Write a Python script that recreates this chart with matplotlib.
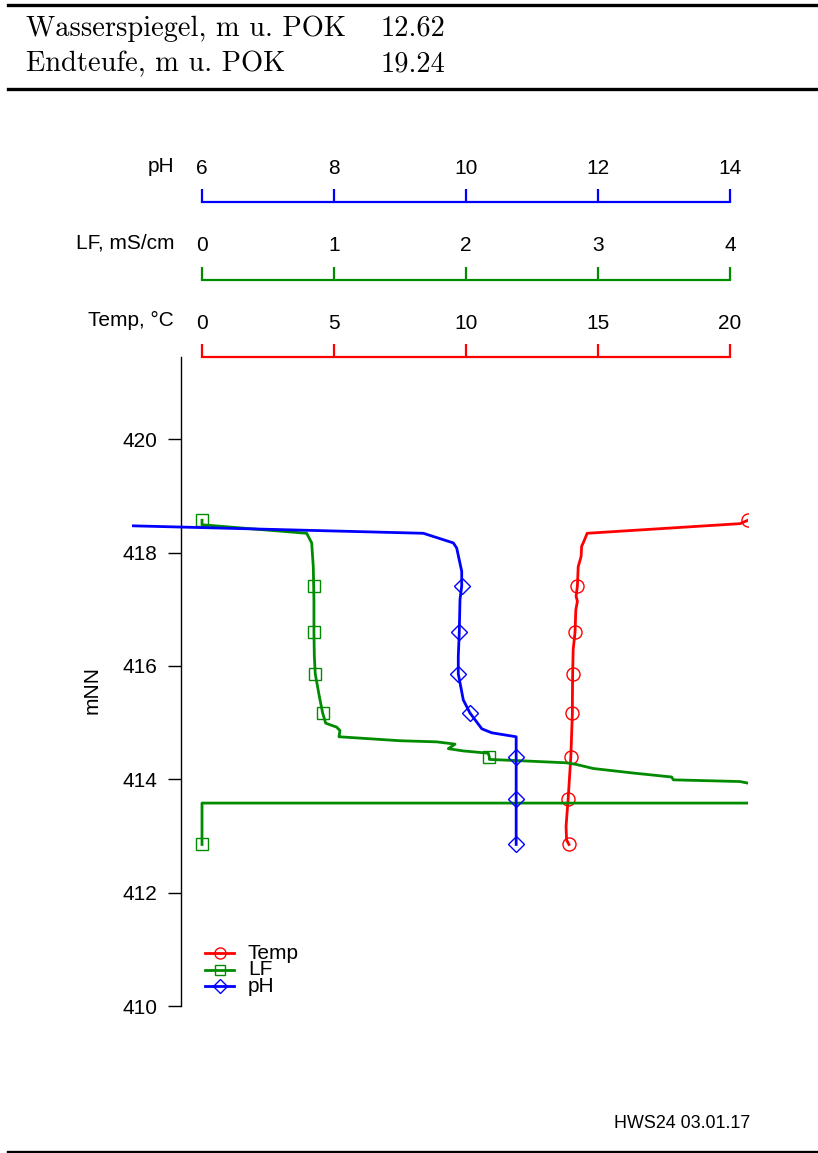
import matplotlib.pyplot as plt
from matplotlib.lines import Line2D

plt.rcParams['font.family'] = ['Liberation Sans', 'DejaVu Sans']

# Kopfdaten
wasserspiegel = 12.62
endteufe = 19.24
kennung = 'HWS24 03.01.17'

# Temperatur-Profil (mNN, °C)
temp_depth = [418.57, 418.51, 418.34, 418.17, 418.11, 417.93, 417.75, 417.41,
              417.23, 417.14, 416.99, 416.59, 416.29, 415.86, 415.40, 415.17,
              414.39, 413.66, 413.17, 412.93, 412.85]
temp_val = [20.68, 20.38, 14.59, 14.44, 14.38, 14.36, 14.25, 14.22,
            14.17, 14.22, 14.16, 14.13, 14.06, 14.04, 14.03, 14.03,
            13.97, 13.87, 13.79, 13.81, 13.90]
temp_marks = [0, 7, 11, 13, 15, 16, 17, 20]

# Leitfähigkeit (mNN, mS/cm)
lf_depth = [418.57, 418.49, 418.34, 418.17, 417.75, 417.41, 417.17, 416.59,
            416.17, 415.86, 415.46, 415.17, 414.99, 414.92, 414.86, 414.75,
            414.68, 414.66, 414.62, 414.54, 414.50, 414.46, 414.39, 414.35,
            414.33, 414.29, 414.26, 414.19, 414.11, 414.04, 413.99, 413.96,
            413.93, 413.80, 413.66, 413.58, 413.58, 412.85]
lf_val = [0.00, 0.00, 0.793, 0.831, 0.843, 0.846, 0.848, 0.848,
          0.851, 0.858, 0.889, 0.914, 0.937, 1.020, 1.045, 1.038,
          1.50, 1.778, 1.917, 1.866, 1.980, 2.169, 2.177, 2.177,
          2.384, 2.763, 2.839, 2.964, 3.267, 3.558, 3.571, 4.076,
          4.139, 4.35, 4.45, 4.45, 0.00, 0.00]
lf_marks = [0, 5, 7, 9, 11, 22, 34, 37]

# pH-Profil (mNN, pH)
ph_depth = [418.57, 418.49, 418.34, 418.17, 418.08, 417.67, 417.41, 417.17,
            416.59, 416.17, 415.86, 415.40, 415.17, 414.89, 414.82, 414.75,
            414.39, 413.66, 412.85]
ph_val = [4.30, 4.33, 9.353, 9.808, 9.859, 9.935, 9.935, 9.909,
          9.898, 9.883, 9.883, 9.959, 10.06, 10.24, 10.39, 10.76,
          10.76, 10.76, 10.76]
ph_marks = [0, 6, 8, 10, 12, 16, 17, 18]

temp_ticks = [0, 5, 10, 15, 20]
lf_ticks = [0, 1, 2, 3, 4]
ph_ticks = [6, 8, 10, 12, 14]
y_ticks = [410, 412, 414, 416, 418, 420]

W, H = 818, 1153
fig = plt.figure(figsize=(W / 100, H / 100), dpi=100)


def fx(px):
    return px / W


def fy(py):
    return 1 - py / H


# Skala läuft von Pixel 202 bis 730, Zeichenfläche von 132 bis 748
X0, X1 = 202, 730
PL, PR = 132, 748


def lim(ticks):
    a, b = ticks[0], ticks[-1]
    k = (b - a) / (X1 - X0)
    return a + (PL - X0) * k, a + (PR - X0) * k


FS = 15
rot, gruen, blau = '#FF0000', '#008B00', '#0000FF'

# Hauptachse (Temperatur) und Zwillinge für LF und pH
ax = fig.add_axes([fx(PL), fy(1006), (PR - PL) / W, (1006 - 357) / H])
ax.set_xlim(*lim(temp_ticks))
ax.set_ylim(410, 421.45)
ax.patch.set_visible(False)
for s in ['top', 'right', 'bottom']:
    ax.spines[s].set_visible(False)
t_per_px = (temp_ticks[-1] - temp_ticks[0]) / (X1 - X0)
ax.spines['left'].set_position(('data', (180.5 - X0) * t_per_px))
ax.spines['left'].set_bounds(410, 421.45)
ax.spines['left'].set_linewidth(1.0)
ax.set_xticks([])
ax.set_yticks(y_ticks)
ax.tick_params(axis='y', length=9.4, width=1.0, pad=7, labelsize=FS)

ax_lf = ax.twiny()
ax_lf.set_xlim(*lim(lf_ticks))
ax_lf.axis('off')
ax_ph = ax.twiny()
ax_ph.set_xlim(*lim(ph_ticks))
ax_ph.axis('off')

serien = [
    (ax, temp_val, temp_depth, temp_marks, rot, 'o', 9.4, 'Temp'),
    (ax_lf, lf_val, lf_depth, lf_marks, gruen, 's', 8.2, 'LF'),
    (ax_ph, ph_val, ph_depth, ph_marks, blau, 'D', 7.8, 'pH'),
]
for a, xv, yv, mk, c, m, ms, name in serien:
    a.plot(xv, yv, color=c, lw=2.0, marker=m, markevery=mk, ms=ms,
           mfc='none', mec=c, mew=1.0)

fig.text(fx(92), fy(690), 'mNN', rotation=90, ha='center', va='center',
         fontsize=FS)

# obere Skalen
skalen = [
    ('pH', ph_ticks, blau, 202, 166),
    ('LF, mS/cm', lf_ticks, gruen, 279.5, 243),
    ('Temp, °C', temp_ticks, rot, 357, 320),
]
for name, ticks, c, py, ly in skalen:
    sa = fig.add_axes([fx(X0), fy(py) - 1 / H, (X1 - X0) / W, 1 / H])
    sa.set_xlim(ticks[0], ticks[-1])
    sa.set_xticks(ticks)
    sa.set_yticks([])
    for s in ['left', 'right', 'bottom']:
        sa.spines[s].set_visible(False)
    sa.spines['top'].set_color(c)
    sa.spines['top'].set_linewidth(1.6)
    sa.xaxis.tick_top()
    sa.tick_params(axis='x', direction='out', length=9.4, width=1.6,
                   color=c, labelsize=FS, pad=8)
    fig.text(fx(174), fy(ly), name, ha='right', va='center', fontsize=FS)

# Legende (Zeilen eng wie im Original)
for i, (_, _, _, _, c, m, ms, name) in enumerate(serien):
    yy = fy(953.3 + i * 16.4)
    fig.add_artist(Line2D([fx(205), fx(219.5), fx(234)], [yy] * 3, color=c,
                          lw=2.0, marker=m, markevery=[1], ms=ms * 0.85,
                          mfc='none', mec=c, mew=1.0))
    fig.text(fx(248), yy, name, ha='left', va='center', fontsize=FS)

# Kopf
for py in [4.5, 88.5, 1151.5]:
    fig.add_artist(Line2D([fx(8), 1], [fy(py)] * 2, color='black', lw=2.4))
HFS = 20.5
fig.text(fx(26), fy(36), 'Wasserspiegel, m u. POK', family='cmr10',
         fontsize=HFS, va='baseline')
fig.text(fx(381), fy(36), f'{wasserspiegel:.2f}', family='cmr10',
         fontsize=HFS, va='baseline')
fig.text(fx(26), fy(71.5), 'Endteufe, m u. POK', family='cmr10',
         fontsize=HFS, va='baseline')
fig.text(fx(381), fy(71.5), f'{endteufe:.2f}', family='cmr10',
         fontsize=HFS, va='baseline')

fig.text(fx(750), fy(1123), kennung, ha='right', va='center', fontsize=12.9)

fig.savefig('out.png', dpi=100)
